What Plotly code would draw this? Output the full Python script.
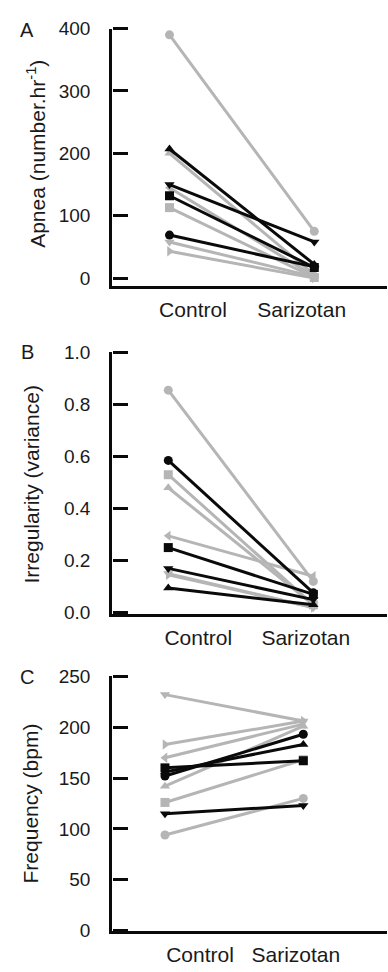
import plotly.graph_objects as go

conditions = ["Control", "Sarizotan"]

# subject order: 4 black subjects then 6 grey subjects
apnea_control = [69, 132, 207, 150, 390, 113, 200, 58, 145, 43]
apnea_sarizotan = [18, 17, 22, 58, 75, 1, 5, 2, 3, 0]

irreg_control = [0.585, 0.25, 0.095, 0.17, 0.855, 0.53, 0.48, 0.15, 0.295, 0.145]
irreg_sarizotan = [0.076, 0.07, 0.03, 0.05, 0.12, 0.03, 0.03, 0.02, 0.14, 0.02]

freq_control = [152, 160, 156, 115, 94, 126, 142, 232, 170, 183]
freq_sarizotan = [193, 167, 183, 123, 130, 168, 201, 206, 203, 206]

apnea_ticks = [0, 100, 200, 300, 400]
irreg_ticks = [0.0, 0.2, 0.4, 0.6, 0.8, 1.0]
freq_ticks = [0, 50, 100, 150, 200, 250]

# styles
BLACK = "#0a0a0a"
GREY = "#b5b5b5"
colors = [BLACK] * 4 + [GREY] * 6
symbols = ["circle", "square", "triangle-up", "triangle-down",
           "circle", "square", "triangle-up", "triangle-down",
           "triangle-left", "triangle-right"]
draw_order = [4, 5, 6, 7, 8, 9, 0, 1, 2, 3]

FONT = "Liberation Sans, Arial, Helvetica, sans-serif"
TXT = "#1a1a1a"

fig = go.Figure()

panels = [
    (apnea_control, apnea_sarizotan, "x", "y"),
    (irreg_control, irreg_sarizotan, "x2", "y2"),
    (freq_control, freq_sarizotan, "x3", "y3"),
]
for ctrl, sar, xa, ya in panels:
    for i in draw_order:
        fig.add_trace(go.Scatter(
            x=[0, 1], y=[ctrl[i], sar[i]],
            mode="lines+markers",
            line=dict(color=colors[i], width=3),
            marker=dict(symbol=symbols[i], size=9, color=colors[i]),
            xaxis=xa, yaxis=ya, showlegend=False, cliponaxis=False,
            hoverinfo="skip",
        ))

# empty traces so the tick-only overlay axes are drawn
for xa, ya in [("x", "y4"), ("x2", "y5"), ("x3", "y6")]:
    fig.add_trace(go.Scatter(x=[], y=[], xaxis=xa, yaxis=ya,
                             showlegend=False, hoverinfo="skip"))

H = 972.0
def dom(top_px, bot_px):
    return [1 - bot_px / H, 1 - top_px / H]

xcommon = dict(showline=True, linecolor=BLACK, linewidth=2.5, ticks="",
               showgrid=False, zeroline=False,
               tickfont=dict(family=FONT, size=21, color=TXT),
               ticklabelstandoff=3)
# main y axis: line + labels (pushed left by a transparent outside tick)
ycommon = dict(showline=True, linecolor=BLACK, linewidth=2.5, ticks="outside",
               ticklen=15, tickcolor="rgba(0,0,0,0)",
               showgrid=False, zeroline=False,
               tickfont=dict(family=FONT, size=19, color=TXT))
# overlay axis on the same line, right-sided, whose outside ticks point into the plot
ytick = dict(showline=False, ticks="outside", ticklen=15, tickwidth=2.5,
             tickcolor=BLACK, showgrid=False, zeroline=False,
             showticklabels=False, anchor="free", position=0, side="right")

A_range = [-12.5, 400]
B_range = [-0.004, 1.0]
C_range = [0, 250]

fig.update_layout(
    width=388, height=972,
    margin=dict(l=112, r=1, t=0, b=0),
    paper_bgcolor="white", plot_bgcolor="white",
    xaxis=dict(xcommon, domain=[0, 1], anchor="y", range=[-0.397, 1.502],
               tickvals=[0.162, 0.913], ticktext=conditions),
    yaxis=dict(ycommon, domain=dom(19, 282), anchor="x", range=A_range,
               tickvals=apnea_ticks),
    yaxis4=dict(ytick, overlaying="y", range=A_range, tickvals=apnea_ticks),
    xaxis2=dict(xcommon, domain=[0, 1], anchor="y2", range=[-0.388, 1.508],
                tickvals=[0.207, 0.948], ticktext=conditions),
    yaxis2=dict(ycommon, domain=dom(350, 617), anchor="x2", range=B_range,
                tickvals=irreg_ticks, tickformat=".1f"),
    yaxis5=dict(ytick, overlaying="y2", range=B_range, tickvals=irreg_ticks),
    xaxis3=dict(xcommon, domain=[0, 1], anchor="y3", range=[-0.383, 1.605],
                tickvals=[0.253, 0.946], ticktext=conditions),
    yaxis3=dict(ycommon, domain=dom(681, 941), anchor="x3", range=C_range,
                tickvals=freq_ticks),
    yaxis6=dict(ytick, overlaying="y3", range=C_range, tickvals=freq_ticks),
)

def px_x(px):
    return (px - 112) / 275.0

def px_y(py):
    return 1 - py / H

titles = [
    ("Apnea (number.hr<sup>-1</sup>)", 36, 147),
    ("Irregularity (variance)", 32, 485),
    ("Frequency (bpm)", 30, 811),
]
for text, cx, cy in titles:
    fig.add_annotation(text=text, xref="paper", yref="paper",
                       x=px_x(cx), y=px_y(cy), textangle=-90,
                       xanchor="center", yanchor="middle", showarrow=False,
                       font=dict(family=FONT, size=21, color=TXT))

for letter, cy in [("A", 20), ("B", 350), ("C", 682)]:
    fig.add_annotation(text=letter, xref="paper", yref="paper",
                       x=px_x(27), y=px_y(cy), xanchor="center", yanchor="middle",
                       showarrow=False, font=dict(family=FONT, size=20, color=TXT))

fig.write_html("out.html")
